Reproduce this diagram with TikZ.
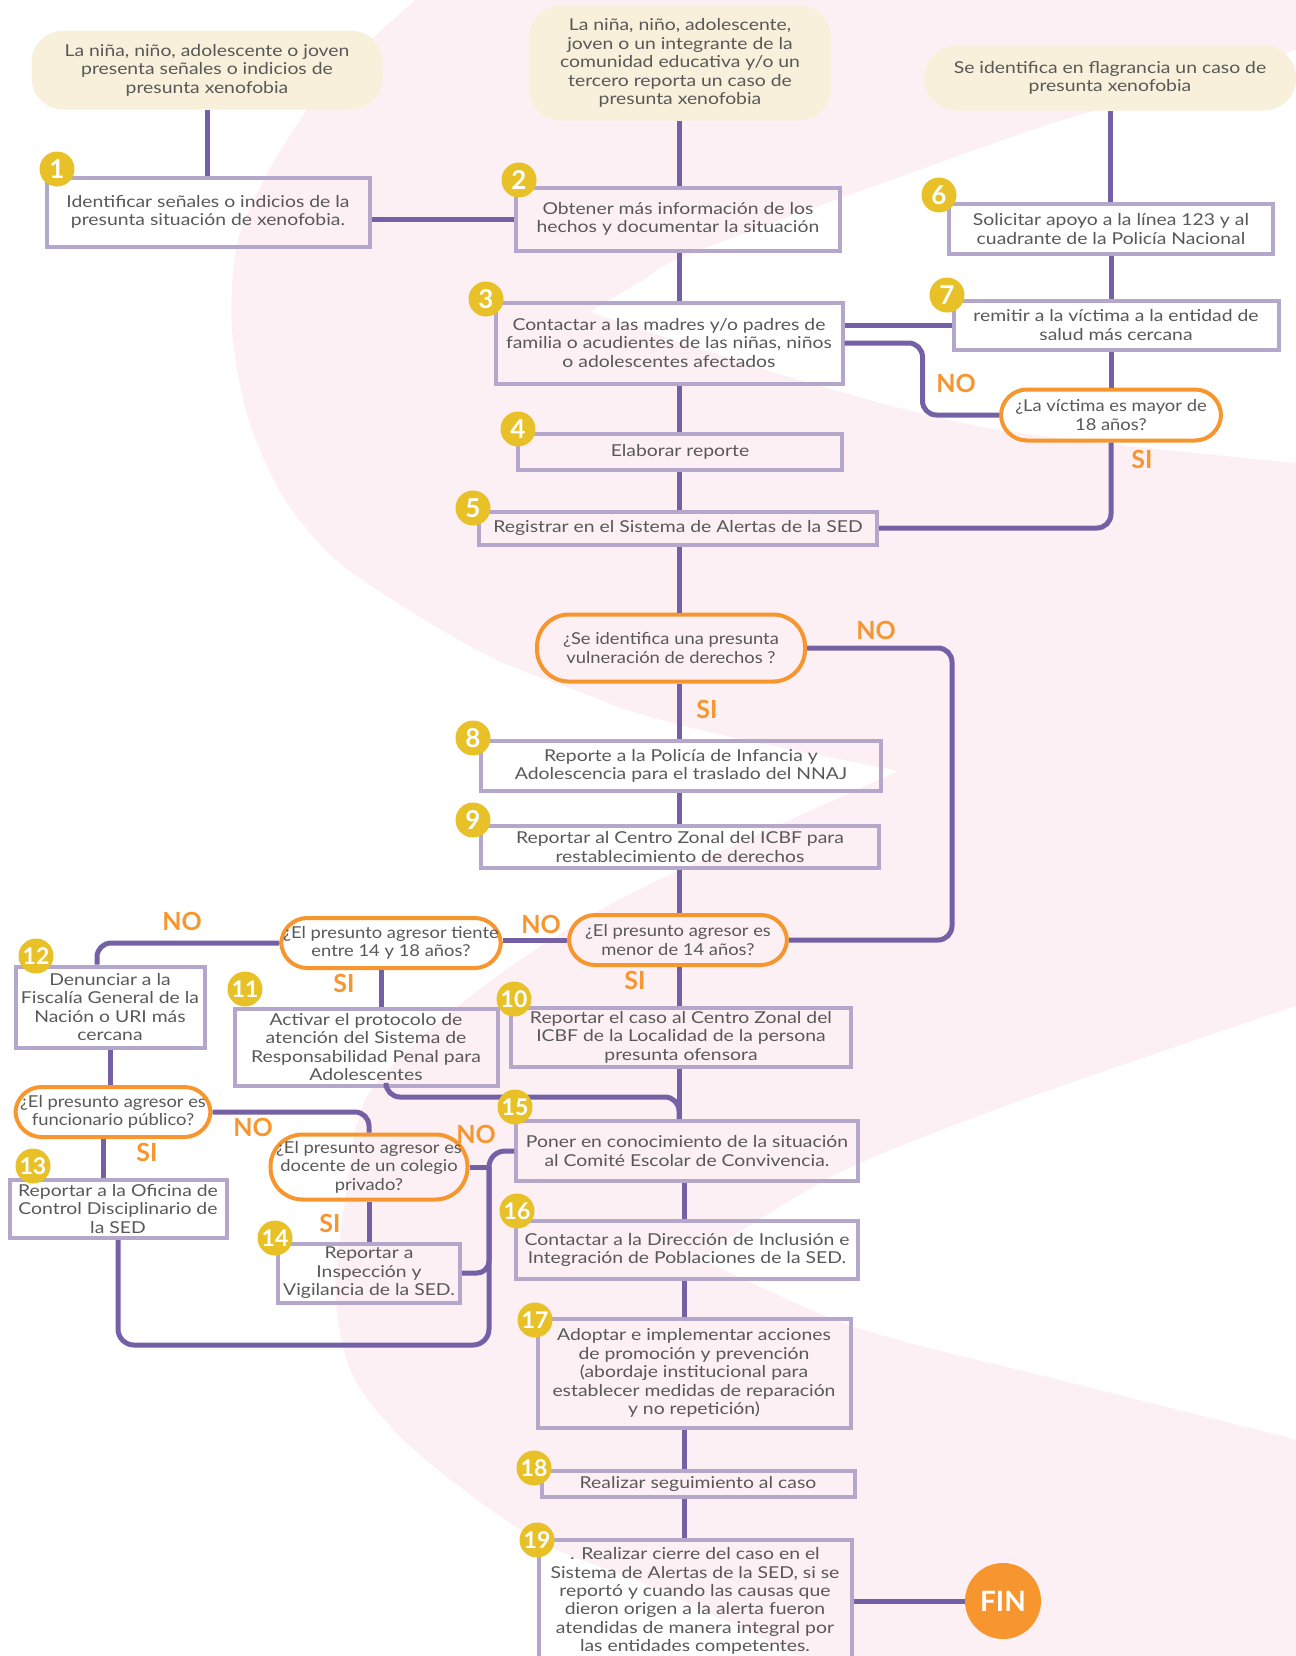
\documentclass[tikz,border=0pt]{standalone}
\usepackage{fontspec}
\setmainfont{Lato}
\newfontfamily\ancha{Lato}[FakeStretch=1.18]
\newfontfamily\media{Lato}[FakeStretch=1.12]
\usetikzlibrary{calc}
\definecolor{linea}{HTML}{7461A5}
\definecolor{borde}{HTML}{B5A6CB}
\definecolor{naranja}{HTML}{F7962F}
\definecolor{amarillo}{HTML}{E7C127}
\definecolor{crema}{HTML}{F8F0DA}
\definecolor{rosa}{HTML}{FDF0F5}
\definecolor{texto}{HTML}{585858}

\begin{document}
\begin{tikzpicture}[x=0.5pt,y=-0.5pt,
    txt/.style={inner sep=1pt,align=center,text=texto,font=\ancha\fontsize{8.2}{9.2}\selectfont},
    paso/.style={txt,draw=borde,line width=2pt},
    inicio/.style={txt,fill=crema,rounded corners=16pt},
    pregunta/.style={txt,font=\media\fontsize{8.2}{9.2}\selectfont,draw=naranja,line width=2pt,rounded corners=13pt},
    num/.style={circle,fill=amarillo,minimum size=17.5pt,inner sep=0pt,text=white,font=\bfseries\fontsize{13}{13}\selectfont},
    resp/.style={text=naranja,font=\bfseries\fontsize{12.5}{12.5}\selectfont},
    conn/.style={draw=linea,line width=2.5pt}]
    \useasboundingbox (0,0) rectangle (1296,1656);
    % fondo
    \fill[rosa] (1296,0) -- (1296,1656) -- plot[smooth] coordinates {(800,1656) (650,1586) (537,1540) (420,1455) (355,1380) (336,1300) (345,1200) (365,1100) (430,1030) (520,960) (640,889) (899,771)}
        -- plot[smooth] coordinates {(899,771) (740,739) (640,714) (580,692) (497,660) (415,614) (336,560) (285,500) (249,421) (232,330) (238,240) (275,160) (330,80) (415,0)} -- cycle;
    \fill[white] plot[smooth] coordinates {(590,312) (640,282) (700,250) (1003,140) (1094,111) (1296,50)} -- (1296,463)
        -- plot[smooth] coordinates {(1296,463) (1000,430) (800,380) (590,312)} -- cycle;
    \fill[white] plot[smooth] coordinates {(700,1258) (839,1173) (1022,1100) (1296,1006)} -- (1296,1440)
        -- plot[smooth] coordinates {(1287,1437) (1060,1380) (855,1327) (700,1258)} -- cycle;

    \coordinate (eje) at (679,0);
    \coordinate (eje2) at (684,0);
    \coordinate (der) at (952,0);
    \coordinate (bus) at (489,1345);

    \node[inicio,minimum width=175.5pt,minimum height=39.5pt] (ini1) at (207,70) {La niña, niño, adolescente o joven\\presenta señales o indicios de\\presunta xenofobia};
    \node[inicio,minimum width=151pt,minimum height=57.5pt] (ini2) at (680,63) {La niña, niño, adolescente,\\joven o un integrante de la\\comunidad educativa y/o un\\tercero reporta un caso de\\presunta xenofobia};
    \node[inicio,minimum width=186pt,minimum height=32.5pt] (ini3) at (1110,78) {Se identifica en flagrancia un caso de\\presunta xenofobia};

    \node[paso,minimum width=161.5pt,minimum height=34.5pt] (p1) at (208,212) {Identificar señales o indicios de la\\presunta situación de xenofobia.};
    \node[paso,minimum width=162pt,minimum height=31.5pt] (p2) at (678,219) {Obtener más información de los\\hechos y documentar la situación};
    \node[paso,minimum width=173.5pt,minimum height=40.5pt] (p3) at (669,343) {Contactar a las madres y/o padres de\\familia o acudientes de las niñas, niños\\o adolescentes afectados};
    \node[paso,minimum width=162pt,minimum height=18pt] (p4) at (680,452) {Elaborar reporte};
    \node[paso,minimum width=199pt,minimum height=16.5pt] (p5) at (678,528) {Registrar en el Sistema de Alertas de la SED};
    \node[paso,minimum width=162pt,minimum height=25pt] (p6) at (1111,229) {Solicitar apoyo a la línea 123 y al\\cuadrante de la Policía Nacional};
    \node[paso,minimum width=162.5pt,minimum height=24.5pt] (p7) at (1116,325) {remitir a la víctima a la entidad de\\salud más cercana};
    \node[pregunta,minimum width=110pt,minimum height=25.5pt] (q1) at (1111,415) {¿La víctima es mayor de\\18 años?};
    \node[pregunta,minimum width=134pt,minimum height=33.5pt,rounded corners=16pt] (q2) at (671,648) {¿Se identifica una presunta\\vulneración de derechos ?};
    \node[paso,minimum width=200pt,minimum height=25pt] (p8) at (681,766) {Reporte a la Policía de Infancia y\\Adolescencia para el traslado del NNAJ};
    \node[paso,minimum width=199pt,minimum height=21pt] (p9) at (680,847) {Reportar al Centro Zonal del ICBF para\\restablecimiento de derechos};
    \node[pregunta,minimum width=109pt,minimum height=25pt] (q3) at (678,940) {¿El presunto agresor es\\menor de 14 años?};
    \node[pregunta,minimum width=109pt,minimum height=25pt] (q4) at (391,943) {¿El presunto agresor tiente\\entre 14 y 18 años?};
    \node[paso,minimum width=170pt,minimum height=29.5pt] (p10) at (681,1037) {Reportar el caso al Centro Zonal del\\ICBF de la Localidad de la persona\\presunta ofensora};
    \node[paso,minimum width=131.5pt,minimum height=38.5pt] (p11) at (366,1047) {Activar el protocolo de\\atención del Sistema de\\Responsabilidad Penal para\\Adolescentes};
    \node[paso,minimum width=94.5pt,minimum height=40.5pt] (p12) at (110,1007) {Denunciar a la\\Fiscalía General de la\\Nación o URI más\\cercana};
    \node[pregunta,minimum width=97.5pt,minimum height=25pt] (q5) at (113,1112) {¿El presunto agresor es\\funcionario público?};
    \node[pregunta,minimum width=98.5pt,minimum height=32.5pt,rounded corners=16pt] (q6) at (369,1167) {¿El presunto agresor es\\docente de un colegio\\privado?};
    \node[paso,minimum width=108.5pt,minimum height=29pt] (p13) at (118,1209) {Reportar a la Oficina de\\Control Disciplinario de\\la SED};
    \node[paso,minimum width=91pt,minimum height=29.5pt] (p14) at (369,1273) {Reportar a\\Inspección y\\Vigilancia de la SED.};
    \node[paso,minimum width=171pt,minimum height=30pt] (p15) at (687,1151) {Poner en conocimiento de la situación\\al Comité Escolar de Convivencia.};
    \node[paso,minimum width=171pt,minimum height=29pt] (p16) at (687,1250) {Contactar a la Dirección de Inclusión e\\Integración de Poblaciones de la SED.};
    \node[paso,minimum width=156.5pt,minimum height=54.5pt] (p17) at (694,1373) {Adoptar e implementar acciones\\de promoción y prevención\\(abordaje institucional para\\establecer medidas de reparación\\y no repetición)};
    \node[paso,minimum width=156.5pt,minimum height=13pt] (p18) at (698,1484) {Realizar seguimiento al caso};
    \node[paso,minimum width=156.5pt,minimum height=61pt] (p19) at (695,1601) {. Realizar cierre del caso en el\\Sistema de Alertas de la SED, si se\\reportó y cuando las causas que\\dieron origen a la alerta fueron\\atendidas de manera integral por\\las entidades competentes.};
    \node[circle,fill=naranja,minimum size=38pt,inner sep=0pt,text=white,font=\bfseries\fontsize{14}{14}\selectfont] (fin) at (1003,1601) {FIN};

    % conectores
    \draw[conn] (ini1.south) -- (ini1.south |- p1.north);
    \draw[conn] (p2.west) -- (p2.west -| p1.east);
    \draw[conn] (ini2.south -| eje) -- (p2.north -| eje);
    \draw[conn] (p2.south -| eje) -- (p3.north -| eje);
    \draw[conn] (p3.south -| eje) -- (p4.north -| eje);
    \draw[conn] (p4.south -| eje) -- (p5.north -| eje);
    \draw[conn] (p5.south -| eje) -- (q2.north -| eje);
    \draw[conn] (ini3.south) -- (ini3.south |- p6.north);
    \draw[conn] (p6.south) -- (p6.south |- p7.north);
    \draw[conn] (p7.south -| q1) -- (q1.north);
    \draw[conn] (p7.west) -- (p7.west -| p3.east);
    \draw[conn,rounded corners=7pt] (p3.east) -- ++(78,0) |- (q1.west);
    \draw[conn,rounded corners=7pt] (q1.south) |- (p5.east);
    \draw[conn] (q2.south -| eje) -- (p8.north -| eje);
    \draw[conn] (p8.south -| eje) -- (p9.north -| eje);
    \draw[conn] (p9.south -| eje) -- (q3.north -| eje);
    \draw[conn,rounded corners=7pt] (q2.east) -| (der |- q3.east) -- (q3.east);
    \draw[conn] (q3.west) -- (q3.west -| q4.east);
    \draw[conn,rounded corners=7pt] (q4.west) -| ([xshift=-6.5pt]p12.north);
    \draw[conn] ([xshift=-5pt]q4.south) -- ([xshift=-5pt]q4.south |- p11.north);
    \draw[conn] (q3.south -| eje) -- (p10.north -| eje);
    \draw[conn] (p10.south -| eje) -- (p15.north -| eje);
    \draw[conn,rounded corners=7pt] ([xshift=10pt]p11.south) |- ([yshift=11pt]p15.north -| eje) -- (p15.north -| eje);
    \draw[conn] (p12.south) -- (p12.south |- q5.north);
    \draw[conn,rounded corners=7pt] (q5.east) -| (q6.north);
    \draw[conn] ([xshift=-5pt]q5.south) -- ([xshift=-5pt]q5.south |- p13.north);
    \draw[conn] (q6.south) -- (p14.north);
    \draw[conn,rounded corners=8pt] (p15.west) -| (bus) -| (p13.south);
    \draw[conn] (q6.east) -- (q6.east -| bus);
    \draw[conn,rounded corners=6pt] (p14.east) -| (bus |- q6.east);
    \draw[conn] (p15.south -| eje2) -- (p16.north -| eje2);
    \draw[conn] (p16.south -| eje2) -- (p17.north -| eje2);
    \draw[conn] (p17.south -| eje2) -- (p18.north -| eje2);
    \draw[conn] (p18.south -| eje2) -- (p19.north -| eje2);
    \draw[conn] (p19.east) -- (fin.west);

    % numeros
    \node[num] (n1) at (57,169) {1};
    \node[num] (n2) at (519,180) {2};
    \node[num] (n3) at (486,299) {3};
    \node[num] (n4) at (518,429) {4};
    \node[num] (n5) at (473,508) {5};
    \node[num] (n6) at (939,195) {6};
    \node[num] (n7) at (947,295) {7};
    \node[num] (n8) at (473,738) {8};
    \node[num] (n9) at (473,820) {9};
    \node[num,font=\bfseries\fontsize{11.5}{12}\selectfont] (n10) at (514,999) {10};
    \node[num,font=\bfseries\fontsize{11.5}{12}\selectfont] (n11) at (245,989) {11};
    \node[num,font=\bfseries\fontsize{11.5}{12}\selectfont] (n12) at (36,956) {12};
    \node[num,font=\bfseries\fontsize{11.5}{12}\selectfont] (n13) at (33,1166) {13};
    \node[num,font=\bfseries\fontsize{11.5}{12}\selectfont] (n14) at (275,1238) {14};
    \node[num,font=\bfseries\fontsize{11.5}{12}\selectfont] (n15) at (515,1107) {15};
    \node[num,font=\bfseries\fontsize{11.5}{12}\selectfont] (n16) at (517,1211) {16};
    \node[num,font=\bfseries\fontsize{11.5}{12}\selectfont] (n17) at (535,1320) {17};
    \node[num,font=\bfseries\fontsize{11.5}{12}\selectfont] (n18) at (534,1468) {18};
    \node[num,font=\bfseries\fontsize{11.5}{12}\selectfont] (n19) at (537,1540) {19};

    % respuestas
    \node[resp] (r1) at (956,383) {NO};
    \node[resp] (r2) at (1142,459) {SI};
    \node[resp] (r3) at (876,630) {NO};
    \node[resp] (r4) at (707,709) {SI};
    \node[resp] (r5) at (182,921) {NO};
    \node[resp] (r6) at (541,924) {NO};
    \node[resp] (r7) at (344,983) {SI};
    \node[resp] (r8) at (635,980) {SI};
    \node[resp] (r9) at (253,1127) {NO};
    \node[resp] (r10) at (476,1134) {NO};
    \node[resp] (r11) at (147,1152) {SI};
    \node[resp] (r12) at (330,1223) {SI};
\end{tikzpicture}
\end{document}
